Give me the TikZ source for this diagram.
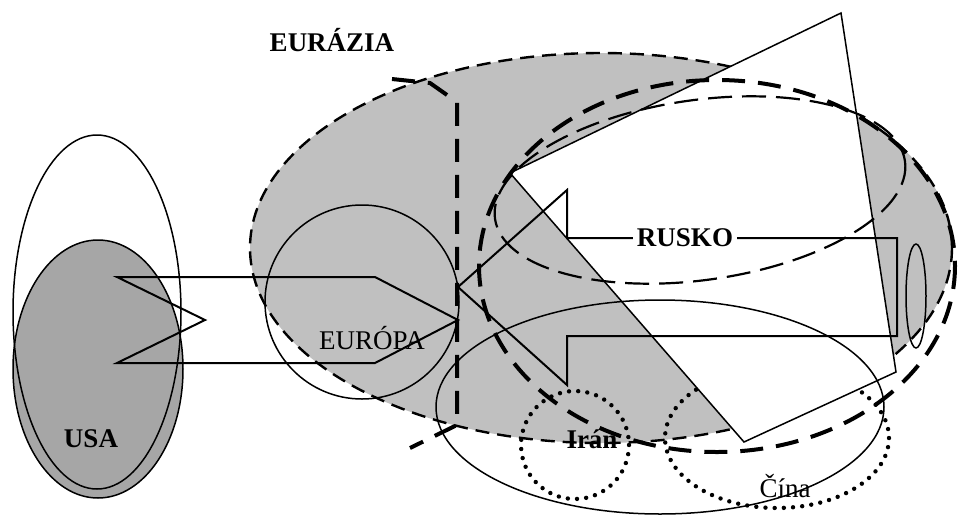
\documentclass[tikz,border=0pt]{standalone}
\usepackage{fontspec}
\setmainfont{Liberation Serif}
\usepackage{tikz}
\definecolor{eurgray}{RGB}{192, 192, 192}
\definecolor{usagray}{RGB}{166, 166, 166}

\begin{document}
\begin{tikzpicture}[x=0.5pt, y=-0.5pt,
    thinline/.style={line width=0.75pt, draw=black},
    arrowline/.style={line width=1pt, draw=black},
    borderdash/.style={line width=1.2pt, dash pattern=on 7pt off 4pt},
    heavydash/.style={line width=2pt, dash pattern=on 11.5pt off 6.5pt},
    lightdash/.style={line width=1.1pt, dash pattern=on 12pt off 5pt},
    dotline/.style={line width=2.2pt, line cap=round, dash pattern=on 0pt off 4.6pt},
    maptext/.style={font=\fontsize{13.5}{16}\selectfont, inner sep=1pt}]
    \useasboundingbox (0,0) rectangle (959,515);

    % Define the corners of the white wedge
    \coordinate (WedgeW) at (510,173);
    \coordinate (WedgeN) at (841,13);
    \coordinate (WedgeE) at (896,372);
    \coordinate (WedgeS) at (744,442);

    % Eurasia (grey, dashed border)
    \fill[eurgray] (601,248) ellipse [x radius=351, y radius=195];
    \draw[borderdash] (601,248) ellipse [x radius=351, y radius=195];

    % USA (two ellipses)
    \filldraw[fill=usagray, thinline] (98,369) ellipse [x radius=85, y radius=129];
    \draw[thinline] (97,312) ellipse [x radius=84, y radius=177];

    % Iran and China (dotted)
    \draw[dotline] (575,445) circle [radius=54];
    \draw[dotline] (777,438) ellipse [x radius=112, y radius=70];

    % White wedge over Eurasia
    \filldraw[fill=white, thinline] (WedgeW) -- (WedgeN) -- (WedgeE) -- (WedgeS) -- cycle;

    % Russia: outer thick dashed ellipse and inner tilted one
    \draw[heavydash] (717,266) ellipse [x radius=238, y radius=186];
    \draw[lightdash, rotate around={8:(700,190)}] (700,190) ellipse [x radius=207, y radius=90];

    % Europe, the big thin ellipse and the small one at the right
    \draw[thinline] (362,302) circle [radius=97];
    \draw[thinline] (660,407) ellipse [x radius=224, y radius=107];
    \draw[thinline] (916,296) ellipse [x radius=10, y radius=52];

    % Thick dashed line between Europe and Russia
    \draw[heavydash] (392,79) -- (430,83) -- (457,102) -- (457,425) -- (410,448);

    % Arrow from USA to Europe
    \draw[arrowline] (117,277) -- (375,277) -- (458,320) -- (375,363) -- (117,363) -- (205,320) -- cycle;

    % Arrow from Russia to Europe
    \draw[arrowline] (458,287) -- (567,190) -- (567,238) -- (897,238) -- (897,336) -- (567,336) -- (567,385) -- cycle;

    % Labels
    \node[maptext, font=\fontsize{13.5}{16}\selectfont\bfseries] (eurazia) at (332,40) {EURÁZIA};
    \node[maptext, font=\fontsize{13.5}{16}\selectfont\bfseries] (usa) at (91,439) {USA};
    \node[maptext] (europa) at (372,338) {EURÓPA};
    \node[maptext, font=\fontsize{13.5}{16}\selectfont\bfseries, fill=white, inner sep=2pt] (rusko) at (685,238) {RUSKO};
    \node[maptext, font=\fontsize{13.5}{16}\selectfont\bfseries] (iran) at (592,439) {Irán};
    \node[maptext] (cina) at (785,486) {Čína};
\end{tikzpicture}
\end{document}
